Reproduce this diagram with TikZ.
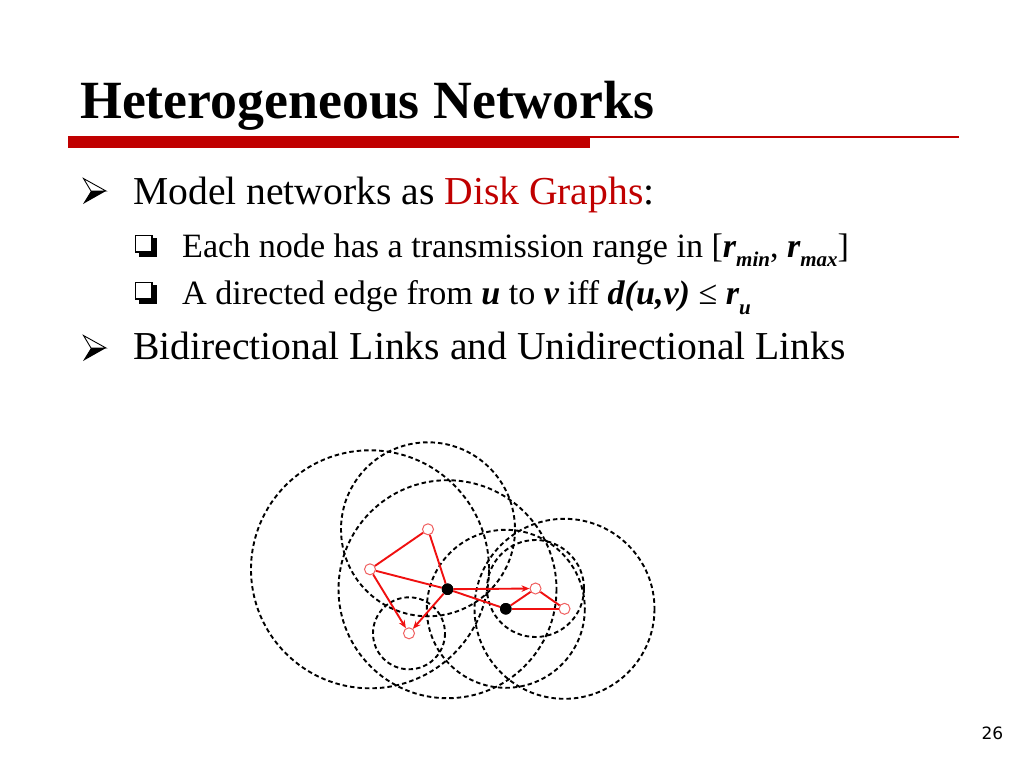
\documentclass[tikz,border=0pt]{standalone}
\usepackage{fontspec}
\setmainfont{Liberation Serif}
\newfontfamily\pagefont{DejaVu Sans}
\usetikzlibrary{arrows.meta}
\definecolor{barred}{HTML}{C00000}
\definecolor{netred}{HTML}{F01010}
\definecolor{ringred}{HTML}{F06060}
\newcommand\lowsub[1]{\raisebox{-0.28em}{\fontsize{21}{21}\selectfont #1}}
\begin{document}
\begin{tikzpicture}[x=1pt,y=-1pt,
  txt/.style={anchor=base west, inner sep=0pt},
  mainsize/.style={font=\fontsize{39.6}{44}\selectfont},
  subsize/.style={font=\fontsize{34.1}{40}\selectfont},
  hollowdot/.style={circle, draw=ringred, line width=1pt, minimum size=11pt, inner sep=0pt},
  blackdot/.style={circle, fill=black, minimum size=11.5pt, inner sep=0pt},
  link/.style={netred, line width=1.9pt},
  arrlink/.style={link, -{Stealth[length=8pt,width=6.5pt]}},
  rangecircle/.style={black, line width=1.9pt, dash pattern=on 4.5pt off 3pt},
  bulletline/.style={black, line width=0.9pt, line join=miter}
]
\useasboundingbox (0,0) rectangle (1024,768);
\fill[white] (0,0) rectangle (1024,768);

% title
\node[txt] (title) at (80,118.3) {\fontsize{53.8}{60}\selectfont\bfseries Heterogeneous Networks};
\fill[barred] (68,136) rectangle (590,148.3);
\fill[barred] (590,135.5) rectangle (959,137.5);

% bullets: arrowheads
\fill[black] (83,204) -- (106,191) -- (91,191) -- cycle;
\draw[bulletline] (83.5,178.5) -- (106,191) -- (91,191) -- cycle;
\fill[black] (83,361) -- (106,348) -- (91,348) -- cycle;
\draw[bulletline] (83.5,335.5) -- (106,348) -- (91,348) -- cycle;

% bullets: shadowed boxes
\fill[black] (139,252) rectangle (156.5,256.5);
\fill[black] (152,238) rectangle (156.5,256.5);
\draw[black, line width=1.1pt] (135.5,235.5) rectangle (152,252);
\fill[black] (139,299) rectangle (156.5,303.5);
\fill[black] (152,285) rectangle (156.5,303.5);
\draw[black, line width=1.1pt] (135.5,282.5) rectangle (152,299);

\node[txt, mainsize] (l1) at (133,204.5) {Model networks as \textcolor{barred}{Disk Graphs}:};
\node[txt, subsize] (l2) at (182,257) {Each node has a transmission range in [{\bfseries\itshape r\lowsub{min}}, {\bfseries\itshape r\lowsub{max}}]};
\node[txt, subsize] (l3) at (182,304.5) {A directed edge from {\bfseries\itshape u} to {\bfseries\itshape v} iff {\bfseries\itshape d(u,v)} ≤ {\bfseries\itshape r\lowsub{u}}};
\node[txt, mainsize] (l4) at (133,359.5) {Bidirectional Links and Unidirectional Links};

% network nodes
\node[hollowdot] (A) at (428,529.3) {};
\node[hollowdot] (B) at (370,569.3) {};
\node[blackdot]  (C) at (447.5,589.2) {};
\node[blackdot]  (D) at (505.8,608.8) {};
\node[hollowdot] (E) at (535.5,588.5) {};
\node[hollowdot] (F) at (564.5,608.8) {};
\node[hollowdot] (G) at (409,633.3) {};

% transmission ranges
\draw[rangecircle] (B) circle[radius=119];
\draw[rangecircle] (A) circle[radius=87];
\draw[rangecircle] (C) circle[radius=109];
\draw[rangecircle] (G) circle[radius=36];
\draw[rangecircle] (D) circle[radius=79];
\draw[rangecircle] (E) circle[radius=48.5];
\draw[rangecircle] (F) circle[radius=90];

% links
\draw[link] (A) -- (B);
\draw[link] (A) -- (C);
\draw[link] (B) -- (C);
\draw[arrlink] (B) -- (G);
\draw[arrlink] (C) -- (G);
\draw[arrlink] (C) -- (E);
\draw[link] (C) -- (D);
\draw[link] (D) -- (E);
\draw[link] (D) -- (F);
\draw[link] (E) -- (F);

% redraw dots on top
\node[blackdot] at (C) {};
\node[blackdot] at (D) {};

\node[anchor=base east, inner sep=0pt, font=\pagefont\fontsize{17}{20}\selectfont] (pg) at (1003.5,739.5) {26};
\end{tikzpicture}
\end{document}
